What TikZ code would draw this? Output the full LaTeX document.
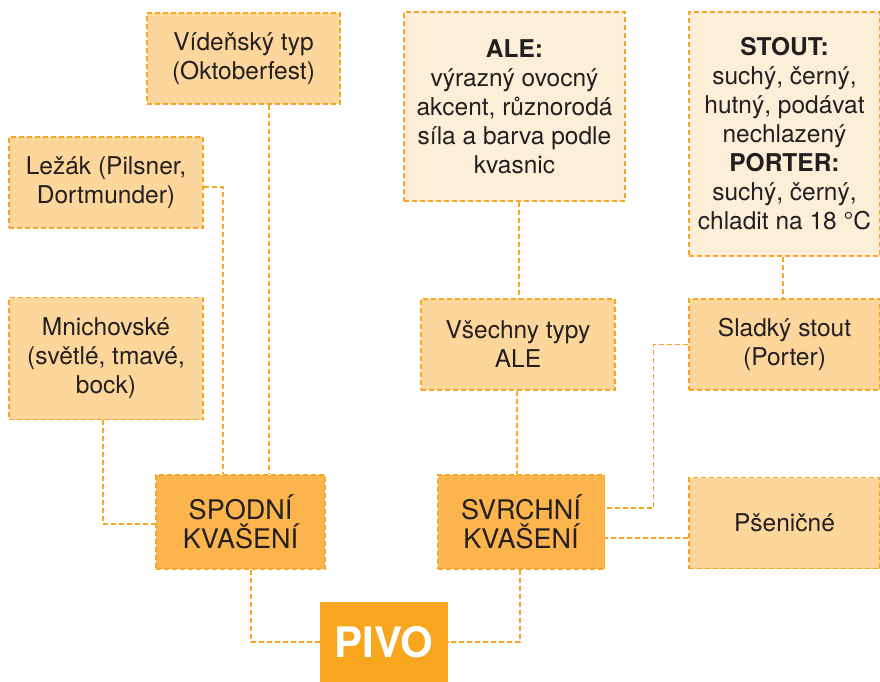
\documentclass[tikz,border=0pt]{standalone}
\usepackage{fontspec}
\setmainfont{TeX Gyre Heros}
\usepackage{tikz}
\usetikzlibrary{shapes,arrows,positioning}
\usetikzlibrary{calc}
\definecolor{beerline}{HTML}{F6A623}
\definecolor{beerlight}{HTML}{FDD69C}
\definecolor{beerpale}{HTML}{FDEED8}
\definecolor{beermid}{HTML}{FBB54C}
\definecolor{beerdark}{HTML}{F7A61E}
\definecolor{ink}{HTML}{231F20}
\tikzstyle{block} = [rectangle, draw=beerline, dash pattern=on 5pt off 3pt,
    line width=1.1pt, fill=beerlight, text=ink, align=center, inner sep=0pt,
    font=\fontsize{24.5}{29}\selectfont]
\tikzstyle{line} = [draw=beerline, dash pattern=on 5pt off 3pt, line width=1.1pt]

\begin{document}
\begin{tikzpicture}[x=1pt, y=-1pt]
    % Style definitions
    \tikzstyle{note} = [block, fill=beerpale]
    \tikzstyle{kind} = [block, fill=beermid, font=\fontsize{27}{29.5}\selectfont]
    \tikzstyle{root} = [rectangle, fill=beerdark, text=white, inner sep=0pt,
        font=\fontsize{42}{44}\selectfont\bfseries]
    \useasboundingbox (0,0) rectangle (880,681);

    % Bottom fermentation
    \node [block, minimum width=193pt, minimum height=91pt] (videnske) at (243.5,58.5) {Vídeňský typ\\(Oktoberfest)};
    \node [block, minimum width=194pt, minimum height=91pt] (lezak) at (106,182.5) {Ležák (Pilsner,\\Dortmunder)};
    \node [block, minimum width=194pt, minimum height=122pt] (mnich) at (106,358.5) {Mnichovské\\(světlé, tmavé,\\bock)};

    % Top fermentation
    \node [note, minimum width=221pt, minimum height=189pt] (ale) at (514.5,106.5) {\textbf{ALE:}\\výrazný ovocný\\akcent, různorodá\\síla a barva podle\\kvasnic};
    \node [note, minimum width=191pt, minimum height=244pt] (stout) at (784.5,134) {\textbf{STOUT:}\\suchý, černý,\\hutný, podávat\\nechlazený\\\textbf{PORTER:}\\suchý, černý,\\chladit na 18 °C};
    \node [block, minimum width=194pt, minimum height=91pt] (vsechny) at (518,344.5) {Všechny typy\\ALE};
    \node [block, minimum width=191pt, minimum height=91pt] (sladky) at (784.5,344.5) {Sladký stout\\(Porter)};
    \node [block, minimum width=191pt, minimum height=91pt] (psenicne) at (784.5,523) {Pšeničné};

    % Fermentation and beer
    \node [kind, minimum width=169pt, minimum height=94pt] (spodni) at (240.5,522) {SPODNÍ\\KVAŠENÍ};
    \node [kind, minimum width=167pt, minimum height=94pt] (svrchni) at (521,522) {SVRCHNÍ\\KVAŠENÍ};
    \node [root, minimum width=128pt, minimum height=80pt] (pivo) at (384,642) {PIVO};

    % Connections
    \path [line] ([xshift=25.5pt]videnske.south) -- ([xshift=25.5pt]videnske.south |- spodni.north);
    \path [line] ([yshift=-4.5pt]lezak.east) -| ([xshift=-17.5pt]spodni.north);
    \path [line] ([xshift=-3pt]mnich.south) |- ([yshift=-2pt]spodni.west);
    \path [line] ([xshift=10.5pt]spodni.south) |- (pivo.west);
    \path [line] ([xshift=-1pt]svrchni.south) |- (pivo.east);
    \path [line] ([xshift=4.5pt]ale.south) -- ([xshift=4.5pt]ale.south |- vsechny.north);
    \path [line] ([xshift=-1pt]vsechny.south) -- ([xshift=-1pt]vsechny.south |- svrchni.north);
    \path [line] ([xshift=-1.5pt]stout.south) -- ([xshift=-1.5pt]sladky.north);
    \path [line] (sladky.west) -- ++(-35,0) |- ([yshift=14pt]svrchni.east);
    \path [line] ([yshift=-15pt]psenicne.west) -- ([yshift=-15pt]psenicne.west -| svrchni.east);
\end{tikzpicture}
\end{document}
